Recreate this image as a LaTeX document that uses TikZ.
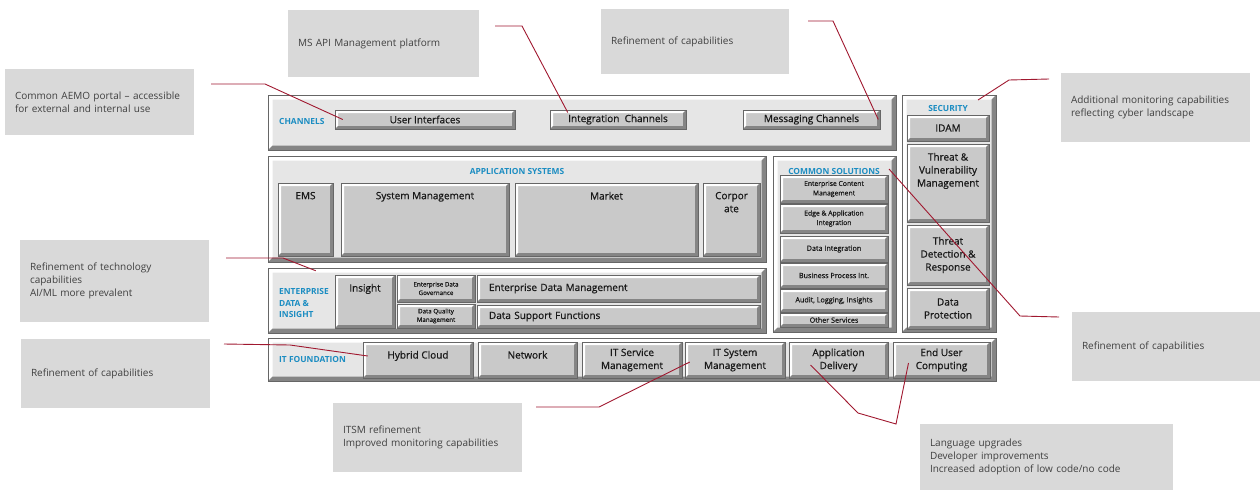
\documentclass[tikz,border=0pt]{standalone}
\usepackage{fontspec}
\setmainfont{Open Sans}
\newfontfamily\medfamily[FakeBold=0.7]{Open Sans}
\usepackage{xcolor}
\usepackage{tikz}
\usetikzlibrary{positioning}

\definecolor{panelfill}{HTML}{E6E6E6}
\definecolor{btnfill}{HTML}{C9C9C9}
\definecolor{titleblue}{HTML}{1C8DC2}
\definecolor{linkred}{HTML}{A0182F}
\definecolor{notefill}{HTML}{D9D9D9}
\definecolor{notetext}{HTML}{404040}

\newcommand{\btnfont}{\medfamily\fontsize{10}{13}\selectfont}
\newcommand{\smallbtnfont}{\medfamily\fontsize{6.8}{9.5}\selectfont}
\newcommand{\onelinefont}{\medfamily\fontsize{7.2}{9.5}\selectfont}
\newcommand{\tinybtnfont}{\medfamily\fontsize{6.2}{8.5}\selectfont}
\newcommand{\titlefont}{\bfseries\fontsize{8.4}{11.8}\selectfont}
\newcommand{\notefont}{\fontsize{10}{13.2}\selectfont}

\tikzset{
  bevel/.style={draw=black!60, line width=0.5pt, path picture={
      \fill[white] (path picture bounding box.south west) -- (path picture bounding box.north west)
        -- (path picture bounding box.north east) -- ([shift={(-#1,-#1)}]path picture bounding box.north east)
        -- ([shift={(#1,-#1)}]path picture bounding box.north west) -- ([shift={(#1,#1)}]path picture bounding box.south west) -- cycle;
      \fill[black!48] (path picture bounding box.south west) -- (path picture bounding box.south east)
        -- (path picture bounding box.north east) -- ([shift={(-#1,-#1)}]path picture bounding box.north east)
        -- ([shift={(-#1,#1)}]path picture bounding box.south east) -- ([shift={(#1,#1)}]path picture bounding box.south west) -- cycle;
    }},
  panel/.style={bevel=4.5pt, fill=panelfill, inner sep=0pt},
  btn/.style={bevel=3pt, fill=btnfill, inner sep=0pt, align=center, font=\btnfont, text=black!90},
  smallbtn/.style={btn, font=\smallbtnfont},
  onelinebtn/.style={btn, font=\onelinefont},
  tinybtn/.style={btn, font=\tinybtnfont},
  leftbtn/.style={btn, align=left, inner xsep=12pt, text width=#1},
  toptext/.style={label={[font=\btnfont, text=black!90, align=center, anchor=north, yshift=-9pt, inner sep=0pt]north:{#1}}},
  grouptitle/.style={font=\titlefont, text=titleblue, inner sep=0pt, align=left},
  note/.style={fill=notefill, text=notetext, font=\notefont, align=left, inner xsep=10pt, inner ysep=0pt, text width=#1},
  link/.style={draw=linkred, line width=0.9pt}
}

\begin{document}
\begin{tikzpicture}[x=1pt, y=-1pt]
\useasboundingbox (0,0) rectangle (1260,490);

% group panels
\node[panel, minimum width=628pt, minimum height=55pt]  (chanpanel) at (582,122.5) {};
\node[panel, minimum width=94pt,  minimum height=237pt] (secpanel)  at (949,213.5) {};
\node[panel, minimum width=498pt, minimum height=106pt] (apppanel)  at (517,209) {};
\node[panel, minimum width=123pt, minimum height=176pt] (companel)  at (834.5,244) {};
\node[panel, minimum width=498pt, minimum height=65pt]  (edipanel)  at (517,300.5) {};
\node[panel, minimum width=728pt, minimum height=43pt]  (itfpanel)  at (632,359.5) {};

% group titles
\node[grouptitle, anchor=west] (chanlbl) at (279,121) {CHANNELS};
\node[grouptitle] (seclbl) at (948,108) {SECURITY};
\node[grouptitle] (applbl) at (517,171) {APPLICATION SYSTEMS};
\node[grouptitle] (comlbl) at (834,171) {COMMON SOLUTIONS};
\node[grouptitle, anchor=west] (edilbl) at (279,303) {ENTERPRISE\\DATA \&\\INSIGHT};
\node[grouptitle, anchor=west] (itflbl) at (279,359) {IT FOUNDATION};

% channels
\node[btn, minimum width=180pt, minimum height=19pt] (ui) at (425,119.5) {User Interfaces};
\node[btn, minimum width=136pt, minimum height=19pt] (ic) at (618,119.5) {Integration~ Channels};
\node[btn, minimum width=137pt, minimum height=19pt] (mc) at (811.5,119.5) {Messaging Channels};

% security
\node[btn, minimum width=82pt, minimum height=26pt] (idam) at (948,128) {IDAM};
\node[btn, minimum width=82pt, minimum height=78pt, toptext={Threat \&\\Vulnerability\\Management}] (tvm) at (948,183) {};
\node[btn, minimum width=82pt, minimum height=60pt] (tdr) at (948,255) {Threat\\Detection \&\\Response};
\node[btn, minimum width=82pt, minimum height=41pt] (dp) at (948,308.5) {Data\\Protection};

% application systems
\node[btn, minimum width=55pt,  minimum height=73pt, toptext={EMS}] (ems) at (305.5,219.5) {};
\node[btn, minimum width=168pt, minimum height=73pt, toptext={System Management}] (sysm) at (425,219.5) {};
\node[btn, minimum width=183pt, minimum height=73pt, toptext={Market}] (mkt) at (606.5,219.5) {};
\node[btn, minimum width=57pt,  minimum height=73pt, toptext={Corpor\\ate}] (corp) at (731.5,219.5) {};

% common solutions
\node[smallbtn, minimum width=108pt, minimum height=28pt] (ecm)  at (834,189) {Enterprise Content\\Management};
\node[smallbtn, minimum width=108pt, minimum height=29pt] (eai)  at (834,218.5) {Edge \& Application\\Integration};
\node[onelinebtn, minimum width=108pt, minimum height=26pt] (dint) at (834,249) {Data Integration};
\node[onelinebtn, minimum width=108pt, minimum height=25pt] (bpi)  at (834,275.5) {Business Process Int.};
\node[onelinebtn, minimum width=108pt, minimum height=23pt] (alog) at (834,300.5) {Audit, Logging, Insights};
\node[onelinebtn, minimum width=108pt, minimum height=14pt] (oths) at (834,320) {Other Services};

% enterprise data & insight
\node[btn, minimum width=60pt, minimum height=53pt, toptext={Insight}] (ins) at (365,301.5) {};
\node[tinybtn, minimum width=78pt, minimum height=27pt] (edg) at (436,288.5) {Enterprise Data\\Governance};
\node[tinybtn, minimum width=78pt, minimum height=24pt] (dqm) at (436,316) {Data Quality\\Management};
\node[leftbtn=259pt, minimum height=27pt] (edm) at (618.5,288.5) {Enterprise Data Management};
\node[leftbtn=259pt, minimum height=23pt] (dsf) at (618.5,316.5) {Data Support Functions};

% it foundation
\node[btn, minimum width=110pt, minimum height=36pt, toptext={Hybrid Cloud}] (hyb) at (418,360) {};
\node[btn, minimum width=99pt,  minimum height=36pt, toptext={Network}] (net) at (527.5,360) {};
\node[btn, minimum width=100pt, minimum height=36pt] (itsm)  at (632,360) {IT Service\\Management};
\node[btn, minimum width=100pt, minimum height=36pt] (itsys) at (735,360) {IT System\\Management};
\node[btn, minimum width=99pt,  minimum height=36pt] (appd)  at (838.5,360) {Application\\Delivery};
\node[btn, minimum width=97pt,  minimum height=36pt] (euc)   at (941.5,360) {End User\\Computing};

% notes
\node[note=169pt, minimum height=66pt] (portalnote) at (99.5,102) {Common AEMO portal – accessible\\for external and internal use};
\node[note=171pt, minimum height=67pt] (apinote) at (383.5,43.5) {MS API Management platform};
\node[note=168pt, minimum height=65pt] (chanote) at (695,41.5) {Refinement of capabilities};
\node[note=169pt, minimum height=69pt] (cybernote) at (1155.5,107.5) {Additional monitoring capabilities\\reflecting cyber landscape};
\node[note=169pt, minimum height=82pt] (datanote) at (114.5,281) {Refinement of technology\\capabilities\\AI/ML more prevalent};
\node[note=169pt, minimum height=69pt] (cloudnote) at (115.5,373.5) {Refinement of capabilities};
\node[note=168pt, minimum height=69pt] (commonnote) at (1166,346.5) {Refinement of capabilities};
\node[note=169pt, minimum height=69pt] (itsmnote) at (427.5,437.5) {ITSM refinement\\Improved monitoring capabilities};
\node[note=233pt, minimum height=66pt] (devnote) at (1046.5,457) {Language upgrades\\Developer improvements\\Increased adoption of low code/no code};

% free ends of the links
\coordinate (portalend) at (211,84);
\coordinate (apiend)    at (495,26);
\coordinate (chanend)   at (808,21);
\coordinate (cyberend)  at (1049,79);
\coordinate (dataend)   at (226,258);
\coordinate (cloudend)  at (224,344);
\coordinate (itsmend)   at (536,407);
\coordinate (commonend) at (1059,317);
\coordinate (devtip)    at (896,424);

% links
\draw[link] (portalend) -- (265,84) -- ([xshift=8pt]ui.west);
\draw[link] (apiend) -- (522,26) -- ([shift={(18pt,7pt)}]ic.west);
\draw[link] (chanend) -- (833,21) -- ([xshift=-2pt]mc.east);
\draw[link] (cyberend) -- (1009,80) -- (978,100);
\draw[link] (dataend) -- (283,258) -- ([shift={(48pt,-3pt)}]edipanel.north west);
\draw[link] (cloudend) -- (290,345) -- ([shift={(5pt,4pt)}]hyb.west);
\draw[link] (itsmend) -- (599,407) -- ([shift={(5pt,-2pt)}]itsys.west);
\draw[link] ([shift={(-28pt,-5pt)}]appd.center) -- (858,413) -- (devtip) -- ([shift={(-33pt,-3pt)}]euc.center);
\draw[link] (889,169) -- (1020,316) -- (commonend);
\end{tikzpicture}
\end{document}
